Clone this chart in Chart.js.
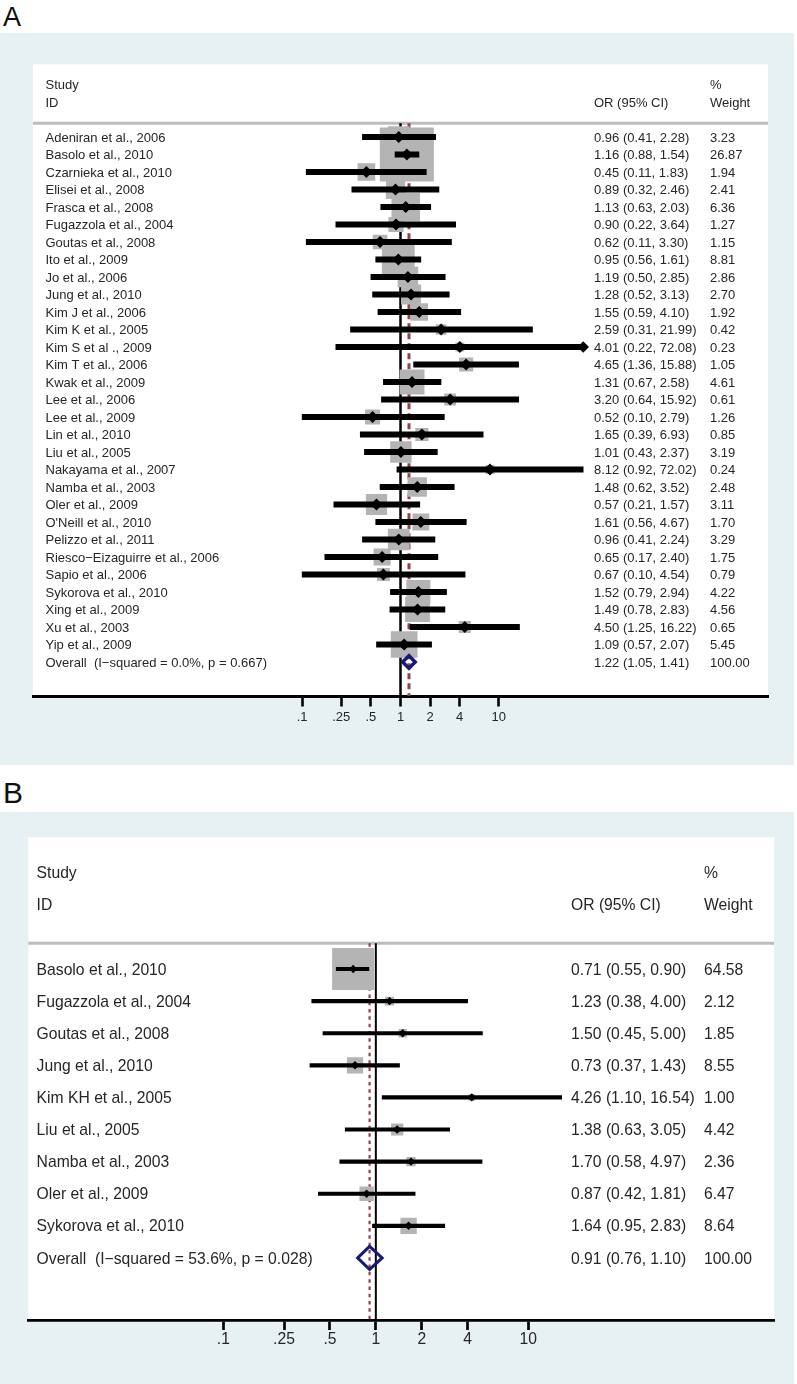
<!DOCTYPE html>
<html><head><meta charset="utf-8">
<script src="https://cdn.jsdelivr.net/npm/chart.js@4.4.1/dist/chart.umd.min.js"></script>
<style>
html,body{margin:0;padding:0;background:#fff;}
body{width:797px;height:1384px;position:relative;overflow:hidden;font-family:'Liberation Sans',Arial,Helvetica,sans-serif;}
.letter{position:absolute;left:3px;line-height:1;color:#111;}
canvas{position:absolute;left:0;}
</style></head><body>
<div class="letter" style="top:4.2px;font-size:27px">A</div>
<div class="letter" style="top:777.6px;font-size:30px">B</div>
<canvas id="ca" width="794" height="732" style="top:33px"></canvas>
<canvas id="cb" width="794" height="572" style="top:812px"></canvas>
<script>
// ---------- tick labels (shared) ----------
const tickValues = [0.1, 0.25, 0.5, 1, 2, 4, 10];
const tickLabels = ['.1', '.25', '.5', '1', '2', '4', '10'];

// ---------- Panel A ----------
const studiesA = ['Adeniran et al., 2006','Basolo et al., 2010','Czarnieka et al., 2010','Elisei et al., 2008','Frasca et al., 2008','Fugazzola et al., 2004','Goutas et al., 2008','Ito et al., 2009','Jo et al., 2006','Jung et al., 2010','Kim J et al., 2006','Kim K et al., 2005','Kim S et al ., 2009','Kim T et al., 2006','Kwak et al., 2009','Lee et al., 2006','Lee et al., 2009','Lin et al., 2010','Liu et al., 2005','Nakayama et al., 2007','Namba et al., 2003','Oler et al., 2009',"O'Neill et al., 2010",'Pelizzo et al., 2011','Riesco\u2212Eizaguirre et al., 2006','Sapio et al., 2006','Sykorova et al., 2010','Xing et al., 2009','Xu et al., 2003','Yip et al., 2009'];
const orA     = [0.96,1.16,0.45,0.89,1.13,0.90,0.62,0.95,1.19,1.28,1.55,2.59,4.01,4.65,1.31,3.20,0.52,1.65,1.01,8.12,1.48,0.57,1.61,0.96,0.65,0.67,1.52,1.49,4.50,1.09];
const lowA    = [0.41,0.88,0.11,0.32,0.63,0.22,0.11,0.56,0.50,0.52,0.59,0.31,0.22,1.36,0.67,0.64,0.10,0.39,0.43,0.92,0.62,0.21,0.56,0.41,0.17,0.10,0.79,0.78,1.25,0.57];
const highA   = [2.28,1.54,1.83,2.46,2.03,3.64,3.30,1.61,2.85,3.13,4.10,21.99,72.08,15.88,2.58,15.92,2.79,6.93,2.37,72.02,3.52,1.57,4.67,2.24,2.40,4.54,2.94,2.83,16.22,2.07];
const weightA = [3.23,26.87,1.94,2.41,6.36,1.27,1.15,8.81,2.86,2.70,1.92,0.42,0.23,1.05,4.61,0.61,1.26,0.85,3.19,0.24,2.48,3.11,1.70,3.29,1.75,0.79,4.22,4.56,0.65,5.45];
const arrowStudiesA = ['Kim S et al ., 2009'];
const overallLabelA = 'Overall  (I\u2212squared = 0.0%, p = 0.667)';
const overallOrA = 1.22, overallLowA = 1.05, overallHighA = 1.41, overallWeightA = 100.00;

// ---------- Panel B ----------
const studiesB = ['Basolo et al., 2010','Fugazzola et al., 2004','Goutas et al., 2008','Jung et al., 2010','Kim KH et al., 2005','Liu et al., 2005','Namba et al., 2003','Oler et al., 2009','Sykorova et al., 2010'];
const orB     = [0.71,1.23,1.50,0.73,4.26,1.38,1.70,0.87,1.64];
const lowB    = [0.55,0.38,0.45,0.37,1.10,0.63,0.58,0.42,0.95];
const highB   = [0.90,4.00,5.00,1.43,16.54,3.05,4.97,1.81,2.83];
const weightB = [64.58,2.12,1.85,8.55,1.00,4.42,2.36,6.47,8.64];
const arrowStudiesB = [];
const overallLabelB = 'Overall  (I\u2212squared = 53.6%, p = 0.028)';
const overallOrB = 0.91, overallLowB = 0.76, overallHighB = 1.10, overallWeightB = 100.00;

// ---------- rendering ----------
const FONT = "'Liberation Sans', Arial, Helvetica, sans-serif";
const TEXT = '#262626';
const BG = '#e7f0f2';
const GREY = '#b4b4b4';
const MAROON = '#95404a';
const NAVY = '#161a78';
const L = Math.log10;
const f2 = v => v.toFixed(2);

function forest(canvasId, d, s) {
  const n = d.studies.length;
  const idx = d.studies.map((_, i) => i);
  const ovRow = n;
  const texts = [
    {row: -3, x: s.labelX, t: 'Study'},
    {row: -2, x: s.labelX, t: 'ID'},
    {row: -2, x: s.orX, t: 'OR (95% CI)'},
    {row: -3, x: s.wX, t: '%'},
    {row: -2, x: s.wX, t: 'Weight'}
  ];
  idx.forEach(i => {
    texts.push({row: i, x: s.labelX, t: d.studies[i]});
    texts.push({row: i, x: s.orX, t: f2(d.or[i]) + ' (' + f2(d.low[i]) + ', ' + f2(d.high[i]) + ')'});
    texts.push({row: i, x: s.wX, t: f2(d.weight[i])});
  });
  texts.push({row: ovRow, x: s.labelX, t: d.ovLabel});
  texts.push({row: ovRow, x: s.orX, t: f2(d.ovOr) + ' (' + f2(d.ovLow) + ', ' + f2(d.ovHigh) + ')'});
  texts.push({row: ovRow, x: s.wX, t: f2(d.ovWeight)});

  const plugin = {
    id: 'forestDeco',
    beforeDraw(chart) {
      const {ctx, chartArea: a} = chart;
      ctx.save();
      ctx.fillStyle = BG; ctx.fillRect(0, 0, chart.width, chart.height);
      ctx.fillStyle = '#fff'; ctx.fillRect(a.left, a.top, a.right - a.left, a.bottom - a.top);
      ctx.restore();
    },
    beforeDatasetsDraw(chart) {
      const {ctx, chartArea: a} = chart;
      const y = chart.scales.y.getPixelForValue(s.sepRow);
      ctx.save();
      ctx.strokeStyle = '#bdbdbd'; ctx.lineWidth = s.sepW;
      ctx.beginPath(); ctx.moveTo(a.left, y); ctx.lineTo(a.right, y); ctx.stroke();
      ctx.restore();
    },
    afterDraw(chart) {
      const {ctx} = chart;
      const ys = chart.scales.y;
      ctx.save();
      ctx.fillStyle = TEXT;
      ctx.font = s.font + 'px ' + FONT;
      ctx.textAlign = 'left';
      ctx.textBaseline = 'alphabetic';
      texts.forEach(o => {
        ctx.fillText(o.t, o.x, ys.getPixelForValue(o.row) + 0.358 * s.font);
      });
      ctx.restore();
    }
  };

  const xo = L(d.ovOr);
  new Chart(document.getElementById(canvasId), {
    type: 'scatter',
    data: {
      datasets: [
        { // confidence intervals
          type: 'bar', indexAxis: 'y',
          data: idx.map(i => ({y: i, x: [L(d.low[i]), L(d.high[i])]})),
          backgroundColor: '#000', borderWidth: 0, barThickness: s.ciW, order: 3
        },
        { // weight boxes
          data: idx.map(i => ({x: L(d.or[i]), y: i})),
          pointStyle: 'rect',
          pointRadius: c => s.sq(d.weight[c.dataIndex]) / Math.SQRT2,
          pointBackgroundColor: GREY, pointBorderWidth: 0, order: 4
        },
        { // point estimates
          data: idx.map(i => ({x: L(d.or[i]), y: i})),
          pointStyle: 'rectRot', pointRadius: s.dR,
          pointBackgroundColor: '#000', pointBorderWidth: 0, order: 2
        },
        { // arrows for truncated CIs
          data: idx.filter(i => d.arrows.includes(d.studies[i])).map(i => ({x: L(d.high[i]), y: i})),
          pointStyle: 'rectRot', pointRadius: s.aR,
          pointBackgroundColor: '#000', pointBorderWidth: 0, order: 2
        },
        { // no-effect line
          showLine: true, data: [{x: L(1), y: s.sepRow}, {x: L(1), y: s.yMax}],
          borderColor: '#000', borderWidth: s.refW, pointRadius: 0, order: 6
        },
        { // overall effect line
          showLine: true, data: [{x: xo, y: s.sepRow}, {x: xo, y: s.yMax}],
          borderColor: MAROON, borderWidth: s.dashW, borderDash: s.dash, pointRadius: 0, order: 5
        },
        { // overall diamond
          showLine: true,
          data: [
            {x: L(d.ovLow), y: ovRow}, {x: xo, y: ovRow - s.ovH}, {x: L(d.ovHigh), y: ovRow},
            {x: xo, y: ovRow + s.ovH}, {x: L(d.ovLow), y: ovRow}, {x: xo, y: ovRow - s.ovH}
          ],
          borderColor: NAVY, borderWidth: s.ovW, borderJoinStyle: 'miter', fill: false,
          pointRadius: 0, order: 1
        }
      ]
    },
    options: {
      responsive: false, animation: false,
      layout: {autoPadding: false, padding: {left: s.left, right: s.right, top: s.top, bottom: s.bottom}},
      plugins: {legend: {display: false}, tooltip: {enabled: false}},
      scales: {
        x: {
          type: 'linear', min: s.xMin, max: s.xMax, offset: false, beginAtZero: false,
          afterBuildTicks: sc => { sc.ticks = tickValues.map(v => ({value: L(v)})); },
          afterFit: sc => { sc.height = 40; },
          ticks: {
            callback: (v, i) => tickLabels[i],
            font: {family: FONT, size: s.font}, color: TEXT,
            padding: s.pad, maxRotation: 0, autoSkip: false
          },
          grid: {offset: false, drawOnChartArea: false, drawTicks: true, tickLength: s.tl, tickWidth: s.tickW, tickColor: '#000'},
          border: {display: true, color: '#000', width: s.axisW}
        },
        y: {type: 'linear', min: s.yMin, max: s.yMax, reverse: true, display: false, offset: false, beginAtZero: false, grid: {offset: false}}
      }
    },
    plugins: [plugin]
  });
}

forest('ca',
  {studies: studiesA, or: orA, low: lowA, high: highA, weight: weightA, arrows: arrowStudiesA,
   ovLabel: overallLabelA, ovOr: overallOrA, ovLow: overallLowA, ovHigh: overallHighA, ovWeight: overallWeightA},
  {font: 13, left: 33, right: 26, top: 31.3, bottom: 29, xMin: -3.737, xMax: 3.737,
   yMin: -4.154, yMax: 31.943, labelX: 45.5, orX: 594, wX: 710, sepRow: -0.78, sepW: 3,
   ciW: 5.5, dR: 6, aR: 5.8, sq: w => 4.3 + 9.6 * Math.sqrt(w), ovH: 0.36, ovW: 3.5,
   refW: 2.5, dashW: 3, dash: [6, 4], tl: 10.5, pad: 2.7, tickW: 2.6, axisW: 3});

forest('cb',
  {studies: studiesB, or: orB, low: lowB, high: highB, weight: weightB, arrows: arrowStudiesB,
   ovLabel: overallLabelB, ovOr: overallOrB, ovLow: overallLowB, ovHigh: overallHighB, ovWeight: overallWeightB},
  {font: 15.7, left: 28.3, right: 20, top: 25.3, bottom: 23.3, xMin: -2.279, xMax: 2.611,
   yMin: -4.103, yMax: 10.956, labelX: 36.6, orX: 571, wX: 704, sepRow: -0.8, sepW: 3,
   ciW: 3.5, dR: 4.2, aR: 4, sq: w => 1.5 + 5.05 * Math.sqrt(w), ovH: 0.36, ovW: 3,
   refW: 2, dashW: 2.2, dash: [3.5, 3.8], tl: 9.3, pad: 0.6, tickW: 2.7, axisW: 2.7});
</script>
</body></html>
